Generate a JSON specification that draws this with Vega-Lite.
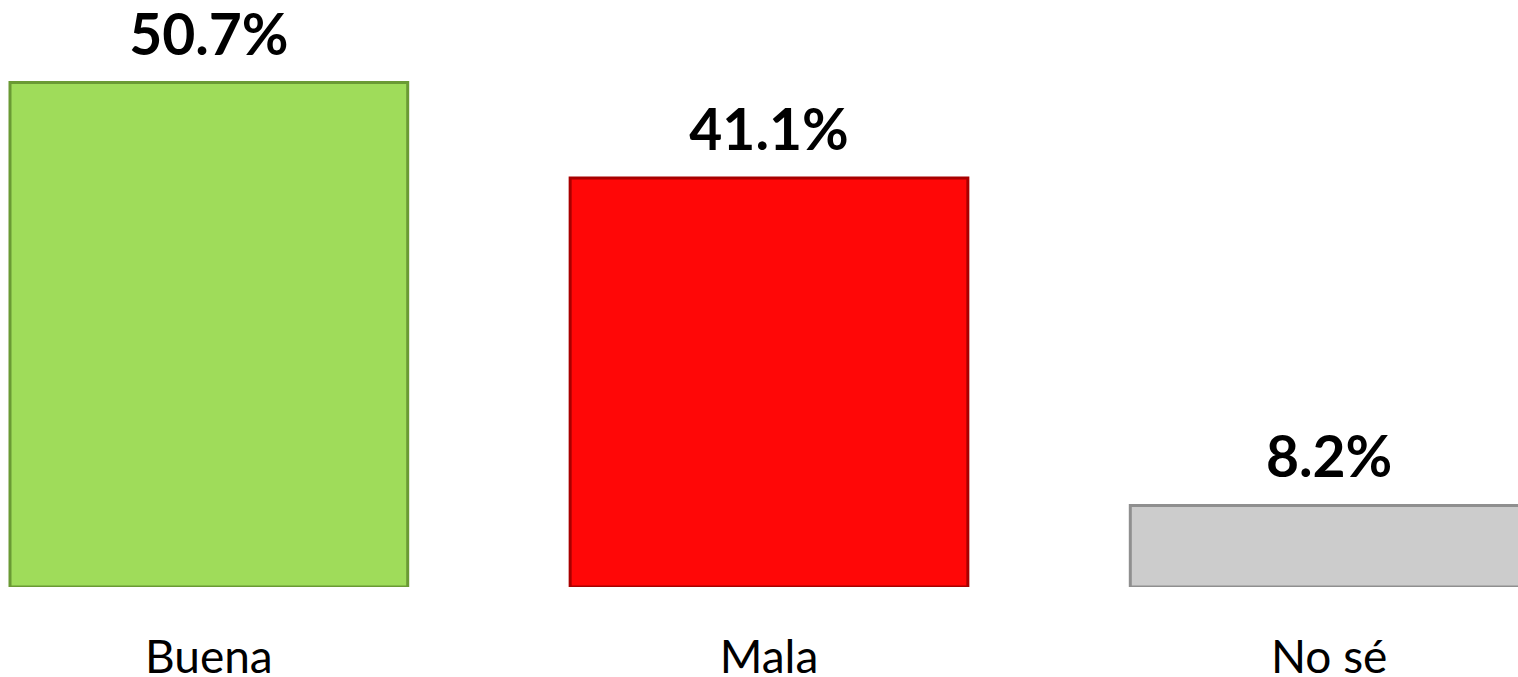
{
  "$schema": "https://vega.github.io/schema/vega-lite/v6.json",
  "width": 1518,
  "height": 587,
  "padding": 0,
  "autosize": {"type": "pad"},
  "background": "white",
  "config": {"view": {"stroke": null}},
  "data": {
    "values": [
      {"cat": "Buena", "value": 50.7, "label": "50.7%"},
      {"cat": "Mala", "value": 41.1, "label": "41.1%"},
      {"cat": "No sé", "value": 8.2, "label": "8.2%"}
    ]
  },
  "encoding": {
    "x": {
      "field": "cat",
      "type": "nominal",
      "sort": null,
      "scale": {"range": [10, 1528], "paddingInner": 0.29, "paddingOuter": 0},
      "axis": {
        "title": null,
        "domain": false,
        "ticks": false,
        "labelAngle": 0,
        "labelFont": "Lato",
        "labelFontSize": 46,
        "labelColor": "black",
        "labelBaseline": "alphabetic",
        "labelPadding": 85
      }
    },
    "y": {
      "field": "value",
      "type": "quantitative",
      "scale": {"domain": [0, 59], "nice": false},
      "axis": null
    }
  },
  "layer": [
    {
      "mark": {"type": "bar", "strokeWidth": 3, "clip": true},
      "encoding": {
        "fill": {
          "field": "cat",
          "type": "nominal",
          "scale": {"domain": ["Buena", "Mala", "No sé"], "range": ["#9fdc5a", "#ff0707", "#cccccc"]},
          "legend": null
        },
        "stroke": {
          "field": "cat",
          "type": "nominal",
          "scale": {"domain": ["Buena", "Mala", "No sé"], "range": ["#6a9a34", "#a80000", "#8f8f8f"]},
          "legend": null
        }
      }
    },
    {
      "mark": {"type": "text", "font": "Lato", "fontWeight": "bold", "fontSize": 57, "color": "black", "baseline": "alphabetic", "dy": -28},
      "encoding": {"text": {"field": "label"}}
    }
  ]
}
